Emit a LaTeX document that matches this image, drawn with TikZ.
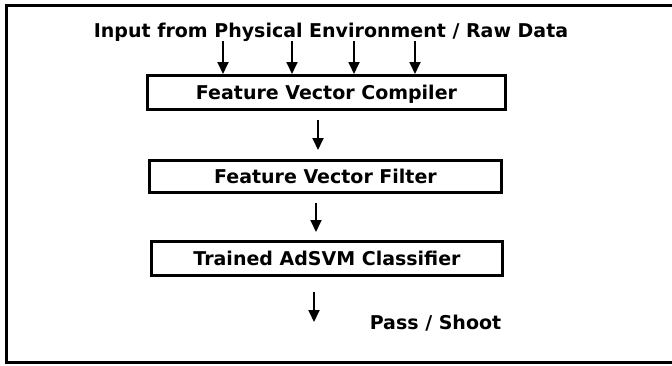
\documentclass[tikz,border=0pt]{standalone}
\usepackage{fontspec}
\setmainfont{DejaVu Sans}
\usetikzlibrary{arrows.meta}
\begin{document}
\begin{tikzpicture}[x=1pt,y=-1pt,
  lbl/.style={font=\fontsize{19}{22}\selectfont\bfseries, inner sep=0pt, text height=13.9pt, text depth=0pt},
  stage/.style={lbl, draw, line width=3pt},
  arr/.style={line width=1.8pt, -{Triangle[width=11pt,length=12pt]}}]
\useasboundingbox (0,0) rectangle (672,365);
% outer frame (right side runs off the picture)
\draw[line width=3pt] (680,5) -- (6.5,5) -- (6.5,362) -- (680,362);
% title
\node[lbl] (title) at (331,31) {Input from Physical Environment / Raw Data};
% stages
\node[stage, minimum width=358pt, minimum height=34pt] (b1) at (326.5,92.5) {Feature Vector Compiler};
\node[stage, minimum width=352pt, minimum height=32pt] (b2) at (325.5,176.5) {Feature Vector Filter};
\node[stage, minimum width=351pt, minimum height=34pt] (b3) at (327,258.5) {Trained AdSVM Classifier};
\node[lbl] (out) at (435.5,322.5) {Pass / Shoot};
% input arrows
\coordinate (i1) at (223,41);
\coordinate (i2) at (292,41);
\coordinate (i3) at (354,41);
\coordinate (i4) at (415,41);
\foreach \c in {i1,i2,i3,i4} \draw[arr] (\c) -- (\c |- b1.north);
% arrows between stages
\coordinate (a1s) at (318,120); \coordinate (a1e) at (318,150);
\coordinate (a2s) at (316,203); \coordinate (a2e) at (316,232);
\coordinate (a3s) at (314,292); \coordinate (a3e) at (314,322);
\draw[arr] (a1s) -- (a1e);
\draw[arr] (a2s) -- (a2e);
\draw[arr] (a3s) -- (a3e);
\end{tikzpicture}
\end{document}
